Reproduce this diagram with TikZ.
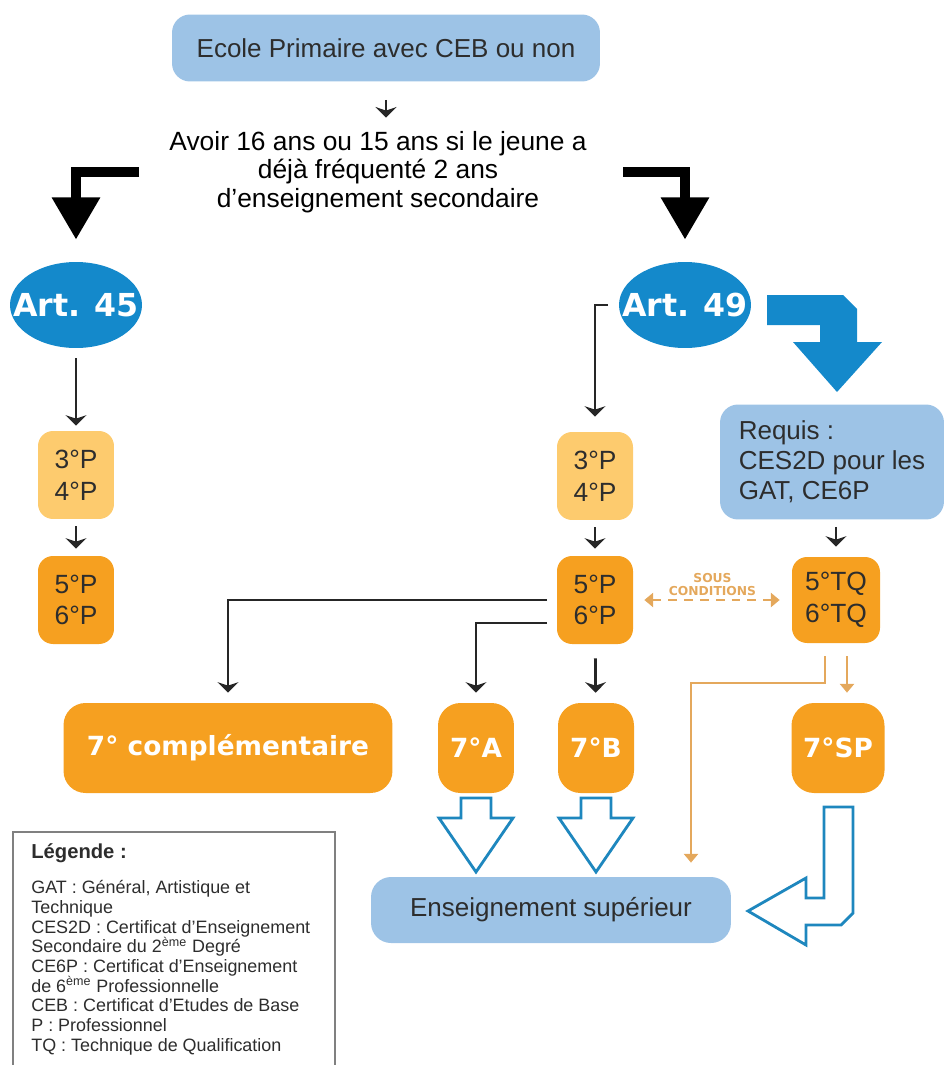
\documentclass[tikz,border=0pt]{standalone}
\usepackage{fontspec}
\setmainfont{Liberation Sans}
\newfontfamily\heavyfont{DejaVu Sans}
\usetikzlibrary{arrows.meta,shapes.geometric}

\begin{document}
\begin{tikzpicture}[x=0.02cm,y=-0.02cm,
    bluebox/.style={fill=paleblue,rounded corners=0.36cm,inner sep=0pt,text=textdark,font=\fontsize{14.8}{17}\selectfont},
    artnode/.style={ellipse,fill=artblue,minimum width=2.64cm,minimum height=1.72cm,inner sep=0pt,text=white,font=\heavyfont\bfseries\fontsize{18}{20}\selectfont},
    pbox/.style={rounded corners=0.3cm,minimum width=1.52cm,minimum height=1.76cm,inner sep=0pt,align=center,text=textdark,font=\fontsize{15}{18}\selectfont},
    seventh/.style={fill=deeporange,rounded corners=0.45cm,minimum height=1.8cm,inner sep=0pt,text=white,font=\heavyfont\bfseries\fontsize{15}{16}\selectfont},
    link/.style={draw=black!85,line width=1.6pt,-{Stealth[length=6pt,width=12pt,inset=2pt]}},
    biglink/.style={draw=black,line width=5.7pt,line join=miter,-{Triangle[length=24pt,width=26pt]}},
    orangelink/.style={draw=linkorange,line width=1.5pt,-{Triangle[length=5pt,width=8pt]}},
    hollow/.style={draw=arrowblue,line width=1.6pt,fill=white,line join=miter}]
    \definecolor{paleblue}{RGB}{157,195,230}
    \definecolor{artblue}{RGB}{20,137,203}
    \definecolor{arrowblue}{RGB}{30,135,190}
    \definecolor{deeporange}{RGB}{246,160,32}
    \definecolor{lightorange}{RGB}{253,203,110}
    \definecolor{linkorange}{RGB}{228,168,92}
    \definecolor{textdark}{RGB}{45,45,45}

    \useasboundingbox (0,0) rectangle (944,1065);

    % entry
    \node[bluebox,minimum width=8.56cm,minimum height=1.34cm] (ecole) at (386,48) {Ecole Primaire avec CEB ou non};
    \node[align=center,inner sep=0pt,font=\fontsize{15}{16.4}\selectfont] (cond) at (378,172)
        {Avoir 16 ans ou 15 ans si le jeune a\\déjà fréquenté 2 ans\\d'enseignement secondaire};
    \draw[link,shorten <=0.36cm,shorten >=0.26cm] (ecole.south) -- (ecole.south |- cond.north);

    % articles
    \node[artnode] (a45) at (76,305) {\makebox[0pt]{Art. 45}};
    \node[artnode] (a49) at (685,305) {\makebox[0pt]{Art. 49}};
    \coordinate (lbar) at (139,172);
    \coordinate (rbar) at (623,172);
    \draw[biglink,shorten >=0.44cm] (lbar) -| (a45);
    \draw[biglink,shorten >=0.44cm] (rbar) -| (a49);

    % years
    \node[pbox,fill=lightorange] (p34a) at (76,475) {3°P\\4°P};
    \node[pbox,fill=deeporange] (p56a) at (76,600) {5°P\\6°P};
    \node[pbox,fill=lightorange] (p34b) at (595,476) {3°P\\4°P};
    \node[pbox,fill=deeporange] (p56b) at (595,600) {5°P\\6°P};
    \node[bluebox,align=left,minimum width=4.48cm,minimum height=2.3cm] (requis) at (832,462)
        {Requis :\\CES2D pour les\\GAT, CE6P};
    \node[pbox,fill=deeporange,minimum width=1.76cm,minimum height=1.72cm] (tq) at (836,600) {5°TQ\\6°TQ};

    \draw[link,shorten <=0.2cm,shorten >=0.1cm] (a45) -- (p34a);
    \draw[link,shorten <=0.14cm,shorten >=0.14cm] (p34a) -- (p56a);
    \coordinate (t49) at (608,305);
    \draw[link,shorten >=0.3cm] (t49) -| (p34b);
    \draw[link,shorten <=0.14cm,shorten >=0.14cm] (p34b) -- (p56b);
    \fill[artblue] (767,295) -- (843,295) -- (857,309) -- (857,342) -- (882,342) -- (837,392)
        -- (793,342) -- (820,342) -- (820,325) -- (767,325) -- cycle;
    \draw[link,shorten <=0.14cm,shorten >=0.2cm] (tq |- requis.south) -- (tq.north);

    % passage
    \draw[linkorange,line width=1.5pt,dash pattern=on 5pt off 4pt,
          {Triangle[length=5pt,width=8pt]}-{Triangle[length=5pt,width=8pt]},
          shorten <=0.22cm,shorten >=0.24cm] (p56b) --
        node[above,inner sep=1.5pt,align=center,text=linkorange,font=\heavyfont\bfseries\fontsize{7}{7.5}\selectfont]
        (cond2) {SOUS\\CONDITIONS} (tq);

    % seventh years
    \node[seventh,minimum width=6.58cm,rounded corners=0.44cm] (c7) at (228,748) {7° complémentaire};
    \node[seventh,minimum width=1.52cm] (a7) at (476,748) {7°A};
    \node[seventh,minimum width=1.52cm] (b7) at (596,748) {7°B};
    \node[seventh,minimum width=1.86cm] (sp) at (838,748) {7°SP};
    \node[bluebox,minimum width=7.2cm,minimum height=1.32cm,rounded corners=0.4cm] (ens) at (551,910) {Enseignement supérieur};

    \coordinate (s1) at (547,600);
    \coordinate (s2) at (547,623);
    \draw[link,shorten >=0.2cm] (s1) -| (c7);
    \draw[link,shorten >=0.2cm] (s2) -| (a7);
    \draw[link,shorten <=0.28cm,shorten >=0.2cm] (p56b) -- (b7);

    \coordinate (o1) at (825,656);
    \coordinate (o2) at (691,683);
    \coordinate (o3) at (847,656);
    \draw[orangelink,shorten >=0.28cm] (o1) |- (o2) -- (o2 |- ens.north);
    \draw[orangelink,shorten >=0.2cm] (o3) -- (o3 |- sp.north);

    % higher education
    \foreach \x in {476,596}
        \draw[hollow] (\x-15,798) -- (\x+15,798) -- (\x+15,818) -- (\x+37,818) -- (\x,872)
            -- (\x-37,818) -- (\x-15,818) -- cycle;
    \draw[hollow] (824,807) -- (853,807) -- (853,913) -- (841,925) -- (806,925) -- (806,945)
        -- (748,911) -- (806,878) -- (806,898) -- (824,898) -- cycle;

    % legend
    \draw[gray,line width=1.2pt] (13,832) rectangle (335,1085);
    \node[anchor=north west,align=left,inner sep=0pt,text=textdark,font=\fontsize{10.2}{11.2}\selectfont] (legende) at (31,843)
        {{\bfseries\fontsize{11.5}{13}\selectfont Légende :}\\[9pt]
        GAT : Général, Artistique et\\
        Technique\\
        CES2D : Certificat d'Enseignement\\
        Secondaire du 2\textsuperscript{ème} Degré\\
        CE6P : Certificat d'Enseignement\\
        de 6\textsuperscript{ème} Professionnelle\\
        CEB : Certificat d'Etudes de Base\\
        P : Professionnel\\
        TQ : Technique de Qualification};
\end{tikzpicture}
\end{document}
